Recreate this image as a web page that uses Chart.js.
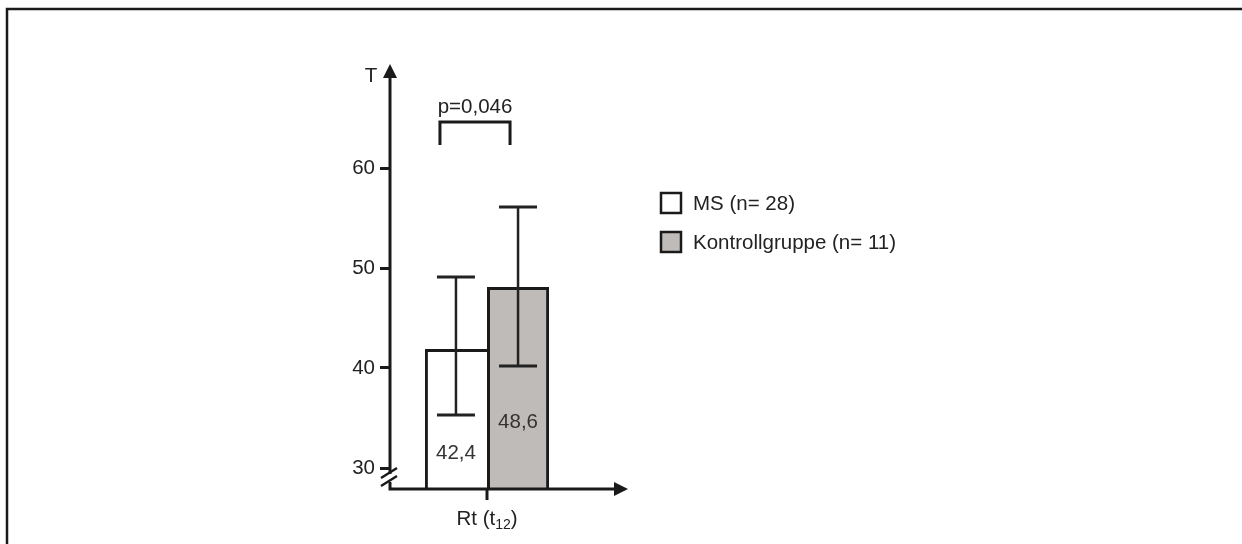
<!DOCTYPE html>
<html>
<head>
<meta charset="utf-8">
<script src="https://cdn.jsdelivr.net/npm/chart.js@4"></script>
<style>
  body { margin: 0; background: #fff; }
  canvas { display: block; }
</style>
</head>
<body>
<canvas id="myChart" width="1242" height="544"></canvas>
<script>
// Data
const categories = ['Rt'];
const seriesLabels = ['MS (n= 28)', 'Kontrollgruppe (n= 11)'];
const barValues = [41.9, 48.1];
const errLow = [35.3, 40.2];
const errHigh = [49.1, 56.1];
const valueLabels = ['42,4', '48,6'];
const seriesColors = ['#ffffff', '#bfbbb8'];
const yTicks = [30, 40, 50, 60];
const pLabel = 'p=0,046';

const FONT = "'Liberation Sans', Arial, sans-serif";
const INK = '#1a1a1a';
const FS = 20.5;

const decorPlugin = {
    id: 'decor',
    beforeDraw(chart) {
        const ctx = chart.ctx;
        ctx.save();
        ctx.fillStyle = '#fff';
        ctx.fillRect(0, 0, chart.width, chart.height);
        // frame (top + left only)
        ctx.strokeStyle = INK;
        ctx.lineWidth = 2.5;
        ctx.beginPath();
        ctx.moveTo(7, chart.height);
        ctx.lineTo(7, 9);
        ctx.lineTo(chart.width, 9);
        ctx.stroke();
        ctx.restore();
    },
    afterDatasetsDraw(chart) {
        const ctx = chart.ctx;
        const y = chart.scales.y;
        const area = chart.chartArea;
        const metas = [0, 1].map(i => chart.getDatasetMeta(i).data[0]);
        ctx.save();

        // error bars
        ctx.strokeStyle = '#222';
        metas.forEach((bar, i) => {
            const cx = bar.x;
            const top = y.getPixelForValue(errHigh[i]);
            const bot = y.getPixelForValue(errLow[i]);
            ctx.lineWidth = 2.5;
            ctx.beginPath();
            ctx.moveTo(cx, top);
            ctx.lineTo(cx, bot);
            ctx.stroke();
            ctx.lineWidth = 3;
            ctx.beginPath();
            ctx.moveTo(cx - 19, top); ctx.lineTo(cx + 19, top);
            ctx.moveTo(cx - 19, bot); ctx.lineTo(cx + 19, bot);
            ctx.stroke();
        });

        // value labels inside bars
        ctx.fillStyle = '#333';
        ctx.font = FS + 'px ' + FONT;
        ctx.textAlign = 'center';
        ctx.textBaseline = 'alphabetic';
        const labelOffsets = [30, 61];
        metas.forEach((bar, i) => {
            ctx.fillText(valueLabels[i], bar.x, area.bottom - labelOffsets[i]);
        });

        // axes
        const x0 = area.left, yBase = area.bottom;
        ctx.strokeStyle = INK;
        ctx.fillStyle = INK;
        ctx.lineWidth = 3;
        const breakY = y.getPixelForValue(29.1);
        ctx.beginPath();
        ctx.moveTo(x0, area.top + 8);
        ctx.lineTo(x0, breakY - 3);
        ctx.moveTo(x0, breakY + 5);
        ctx.lineTo(x0, yBase);
        ctx.lineTo(628 - 12, yBase);
        ctx.stroke();
        // y arrow
        ctx.beginPath();
        ctx.moveTo(x0, area.top - 4);
        ctx.lineTo(x0 - 7, area.top + 10);
        ctx.lineTo(x0 + 7, area.top + 10);
        ctx.closePath();
        ctx.fill();
        // x arrow
        ctx.beginPath();
        ctx.moveTo(628, yBase);
        ctx.lineTo(614, yBase - 7);
        ctx.lineTo(614, yBase + 7);
        ctx.closePath();
        ctx.fill();
        // axis break
        ctx.lineWidth = 2.5;
        ctx.beginPath();
        ctx.moveTo(x0 - 9, breakY + 1);
        ctx.lineTo(x0 + 7, breakY - 9);
        ctx.moveTo(x0 - 9, breakY + 9);
        ctx.lineTo(x0 + 7, breakY - 1);
        ctx.stroke();
        // x tick
        const xc = chart.scales.x.getPixelForValue(0);
        ctx.lineWidth = 3;
        ctx.beginPath();
        ctx.moveTo(xc, yBase);
        ctx.lineTo(xc, yBase + 11);
        ctx.stroke();

        // x label with subscript
        ctx.fillStyle = '#222';
        ctx.textAlign = 'left';
        const big = FS + 'px ' + FONT, small = '14px ' + FONT;
        const parts = [[categories[0] + ' (t', big, 0], ['12', small, 4], [')', big, 0]];
        let total = 0;
        parts.forEach(p => { ctx.font = p[1]; total += ctx.measureText(p[0]).width; });
        let tx = xc - total / 2;
        parts.forEach(p => {
            ctx.font = p[1];
            ctx.fillText(p[0], tx, 525 + p[2]);
            tx += ctx.measureText(p[0]).width;
        });

        // axis title T
        ctx.font = FS + 'px ' + FONT;
        ctx.textAlign = 'center';
        ctx.fillText('T', 371, 82);

        // significance bracket
        const bl = metas[0].x - 16, br = metas[1].x - 8;
        const bt = y.getPixelForValue(64.6), bb = y.getPixelForValue(62.3);
        ctx.strokeStyle = INK;
        ctx.lineWidth = 3;
        ctx.beginPath();
        ctx.moveTo(bl, bb);
        ctx.lineTo(bl, bt);
        ctx.lineTo(br, bt);
        ctx.lineTo(br, bb);
        ctx.stroke();
        ctx.fillText(pLabel, (bl + br) / 2, y.getPixelForValue(65.5));

        // legend
        ctx.textAlign = 'left';
        ctx.textBaseline = 'middle';
        seriesLabels.forEach((lab, i) => {
            const ly = 203 + i * 39;
            ctx.fillStyle = seriesColors[i];
            ctx.fillRect(661, ly - 10, 20, 20);
            ctx.lineWidth = 2.5;
            ctx.strokeStyle = INK;
            ctx.strokeRect(661, ly - 10, 20, 20);
            ctx.fillStyle = '#222';
            ctx.fillText(lab, 693, ly + 1);
        });

        ctx.restore();
    }
};

const ctx = document.getElementById('myChart').getContext('2d');
const chart = new Chart(ctx, {
    type: 'bar',
    data: {
        labels: categories,
        datasets: seriesLabels.map((lab, i) => ({
            label: lab,
            data: [barValues[i]],
            backgroundColor: seriesColors[i],
            borderColor: INK,
            borderWidth: 3,
            // first bar shares its right edge with the second one
            borderSkipped: i === 0 ? 'right' : false
        }))
    },
    options: {
        responsive: false,
        animation: false,
        layout: { padding: { left: 340, right: 658, top: 68, bottom: 0 } },
        plugins: {
            legend: { display: false },
            tooltip: { enabled: false }
        },
        datasets: {
            bar: { barPercentage: 1, categoryPercentage: 0.64 }
        },
        scales: {
            x: {
                ticks: { display: false },
                grid: { display: false },
                border: { display: false },
                afterFit(scale) { scale.height = 55; }
            },
            y: {
                min: 27.9,
                max: 70,
                afterBuildTicks(scale) {
                    scale.ticks = yTicks.map(v => ({ value: v }));
                },
                ticks: {
                    color: '#222',
                    font: { family: FONT, size: FS },
                    padding: 5
                },
                grid: {
                    drawOnChartArea: false,
                    drawTicks: true,
                    tickLength: 10,
                    lineWidth: 3,
                    color: INK
                },
                border: { display: false },
                afterFit(scale) { scale.width = 50; }
            }
        }
    },
    plugins: [decorPlugin]
});
</script>
</body>
</html>
